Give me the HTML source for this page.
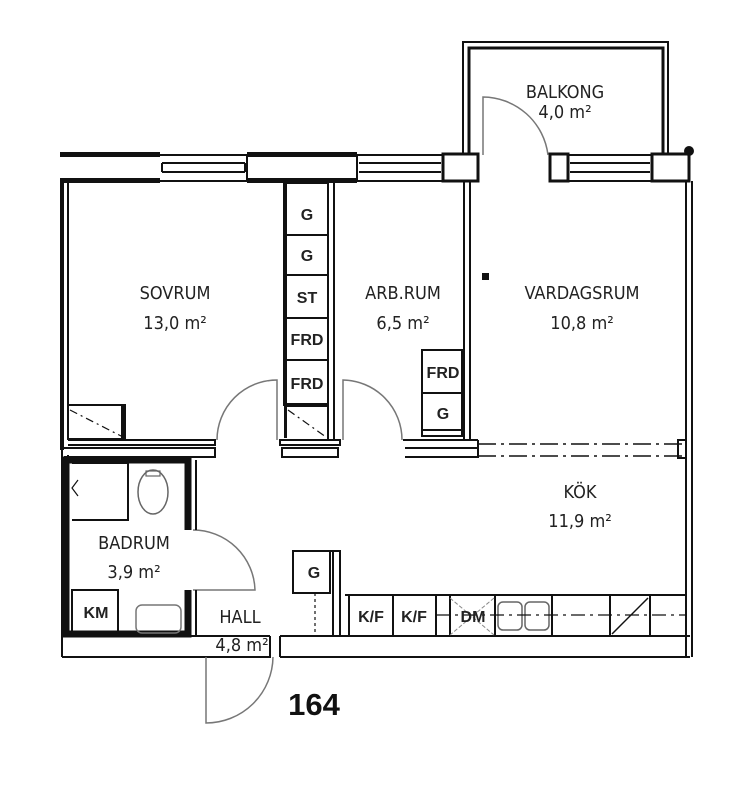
<!DOCTYPE html>
<html><head><meta charset="utf-8"><style>
html,body{margin:0;padding:0;background:#fff;width:755px;height:800px;overflow:hidden}
svg{display:block}
.r{font-family:"DejaVu Sans Condensed","Liberation Sans",sans-serif;font-size:18px;fill:#222;text-anchor:middle}
.b{font-family:"Liberation Sans",sans-serif;font-size:16px;font-weight:bold;fill:#222;text-anchor:middle}
</style></head><body>
<svg width="755" height="800" viewBox="0 0 755 800" xmlns="http://www.w3.org/2000/svg">
<g fill="none" stroke="#111" stroke-width="2">
<!-- balcony -->
<path d="M463 155 V42 H668 V155" />
<path d="M469 155 V48 H663 V155" stroke-width="3"/>
<!-- top wall -->
<rect x="60" y="152" width="100" height="5" fill="#111" stroke="none"/>
<rect x="60" y="178" width="100" height="5" fill="#111" stroke="none"/>
<rect x="247" y="152" width="110" height="5" fill="#111" stroke="none"/>
<rect x="247" y="178" width="110" height="5" fill="#111" stroke="none"/>
<path d="M247 155 V181 M357 155 V181"/>
<path d="M160 155 H247 M160 181 H247 M162 163 H245 M162 172 H245 M162 163 V172 M245 163 V172"/>
<path d="M357 155 H443 M357 181 H443 M359 163 H441 M359 172 H441"/>
<rect x="443" y="154" width="35" height="27" stroke-width="3"/>
<rect x="550" y="154" width="18" height="27" stroke-width="3"/>
<path d="M568 155 H652 M568 181 H652 M570 163 H650 M570 172 H650"/>
<rect x="652" y="154" width="37" height="27" stroke-width="3"/>
<circle cx="689" cy="151" r="4" fill="#111"/>
<!-- right wall -->
<path d="M686 181 V657 M692 181 V657"/>
<!-- left wall -->
<rect x="60" y="180" width="4" height="270" fill="#111" stroke="none"/>
<path d="M68 182 V440 M62 450 V657 M68 455 V636"/>
<!-- bottom wall -->
<path d="M62 636 H270 M62 657 H270 V636 M280 636 H690 M280 657 H690 M280 636 V657"/>
<!-- sovrum/hall wall -->
<path d="M68 440 H215 V445 H68 M64 448 H215 V457 H64"/>
<rect x="68" y="405" width="57" height="34"/>
<rect x="121" y="405" width="5" height="34" fill="#111" stroke="none"/>
<path d="M70 410 L123 437" stroke-dasharray="8 4 2 4" stroke-width="1.2"/>
<!-- closet column -->
<rect x="284" y="183" width="44" height="222"/>
<rect x="284" y="183" width="3" height="255" fill="#111" stroke="none"/>
<path d="M328 183 V440 M334 183 V440"/>
<path d="M284 235 H328 M284 275 H328 M284 318 H328 M284 360 H328"/>
<rect x="285" y="403" width="43" height="4" fill="#111" stroke="none"/>
<path d="M288 410 L326 437" stroke-dasharray="8 4 2 4" stroke-width="1.2"/>
<path d="M280 440 H340 V445 H280 Z M282 448 H338 V457 H282 Z"/>
<!-- arb/vard wall -->
<path d="M464 182 V440 M470 182 V440"/>
<rect x="422" y="350" width="40" height="86"/>
<path d="M422 393 H462 M422 430 H462"/>
<path d="M403 440 H478 M405 448 H478 V457 H405 M478 440 V458"/>
<path d="M478 444 H686 M478 456 H686" stroke-dasharray="18 5 3 5" stroke-width="1.5"/>
<path d="M678 440 H686 V458 H678 Z"/>
<!-- doors -->
<g stroke="#777" stroke-width="1.5">
<path d="M277 440 V380 A60 60 0 0 0 217 440"/>
<path d="M343 440 V380 A60 60 0 0 1 402 440"/>
<path d="M483 155 V97 A66 66 0 0 1 548 155"/>
<path d="M193 530 A62 62 0 0 1 255 590 H193"/>
<path d="M206 657 V723 A67 67 0 0 0 273 657"/>
</g>
<!-- bathroom -->
<path d="M188 530 V460 H66 V634 H188 V590" stroke-width="7"/>
<path d="M196 460 V530 M196 590 V636" stroke-width="2"/>
<path d="M72 463 H128 V520 H72" stroke-width="2"/>
<path d="M78 480 L72 488 L78 496" stroke-width="1.2"/>
<ellipse cx="153" cy="492" rx="15" ry="22" stroke="#666" stroke-width="1.5"/>
<rect x="146" y="471" width="14" height="5" stroke="#666" stroke-width="1.2"/>
<rect x="72" y="590" width="46" height="44"/>
<rect x="136" y="605" width="45" height="28" rx="6" stroke="#777" stroke-width="1.5"/>
<!-- kitchen -->
<rect x="293" y="551" width="37" height="42"/>
<path d="M330 551 H340 V636 M333 551 V636"/>
<path d="M315 593 V635" stroke-dasharray="3 3" stroke-width="1.2"/>
<path d="M345 595 H686 M349 595 V636 M393 595 V636 M436 595 V636 M450 595 V636 M495 595 V636 M552 595 V636 M610 595 V636 M650 595 V636"/>
<path d="M450 598 L494 635 M494 598 L450 635" stroke="#888" stroke-width="1" stroke-dasharray="4 2"/>
<rect x="498" y="602" width="24" height="28" rx="5" stroke="#666" stroke-width="1.5"/>
<rect x="525" y="602" width="24" height="28" rx="5" stroke="#666" stroke-width="1.5"/>
<path d="M436 615 H686" stroke-dasharray="14 5 3 5" stroke-width="1.3"/>
<path d="M612 634 L648 598" stroke-width="1.5"/>
</g>
<rect x="482" y="273" width="7" height="7" fill="#111"/>
<text class="r" x="565" y="98">BALKONG</text>
<text class="r" x="565" y="118">4,0 m²</text>
<text class="r" x="175" y="299">SOVRUM</text>
<text class="r" x="175" y="329">13,0 m²</text>
<text class="r" x="403" y="299">ARB.RUM</text>
<text class="r" x="403" y="329">6,5 m²</text>
<text class="r" x="582" y="299">VARDAGSRUM</text>
<text class="r" x="582" y="329">10,8 m²</text>
<text class="r" x="580" y="498">KÖK</text>
<text class="r" x="580" y="527">11,9 m²</text>
<text class="r" x="134" y="549">BADRUM</text>
<text class="r" x="134" y="578">3,9 m²</text>
<text class="r" x="240" y="623">HALL</text>
<text class="r" x="242" y="651">4,8 m²</text>
<text x="314" y="715" font-family="Liberation Sans,sans-serif" font-size="31" font-weight="bold" fill="#111" text-anchor="middle">164</text>
<text class="b" x="307" y="220">G</text>
<text class="b" x="307" y="261">G</text>
<text class="b" x="307" y="303">ST</text>
<text class="b" x="307" y="345">FRD</text>
<text class="b" x="307" y="389">FRD</text>
<text class="b" x="443" y="378">FRD</text>
<text class="b" x="443" y="419">G</text>
<text class="b" x="314" y="578">G</text>
<text class="b" x="96" y="618">KM</text>
<text class="b" x="371" y="622">K/F</text>
<text class="b" x="414" y="622">K/F</text>
<text class="b" x="473" y="622" fill="#444">DM</text>
</svg>
</body></html>
